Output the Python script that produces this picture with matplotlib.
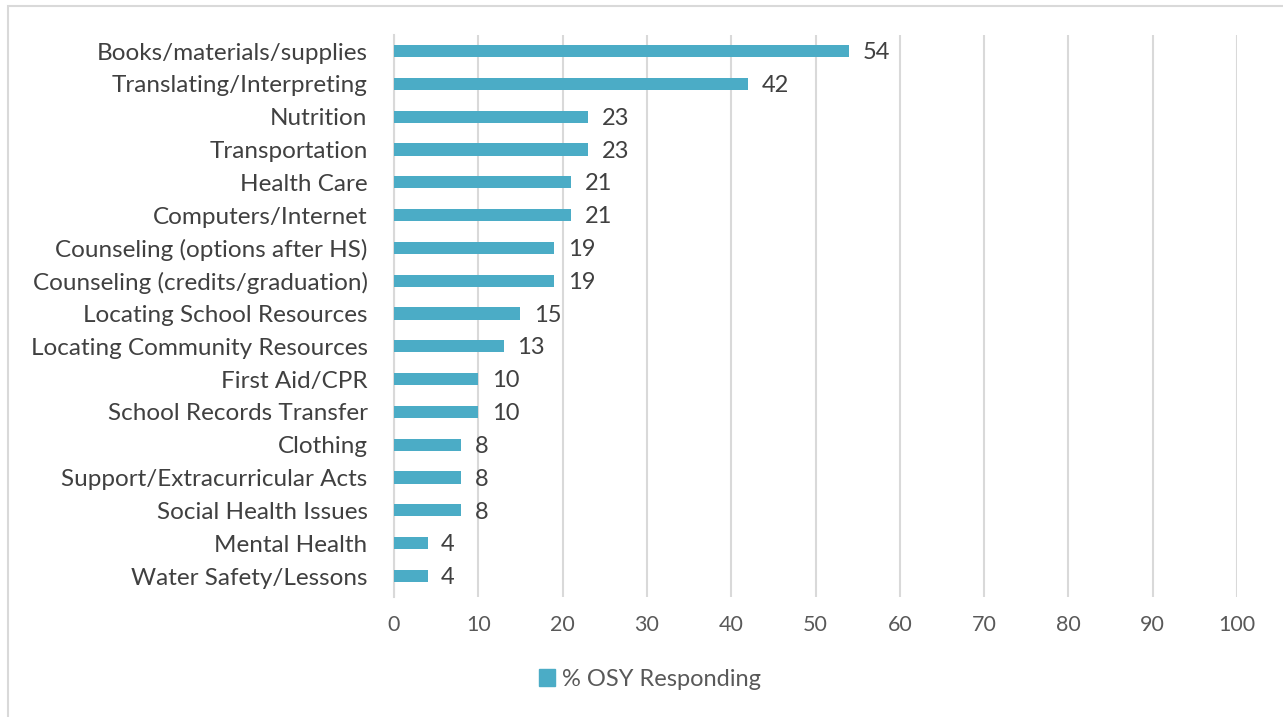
import matplotlib.pyplot as plt
from matplotlib.patches import Rectangle

categorias = [
    "Books/materials/supplies",
    "Translating/Interpreting",
    "Nutrition",
    "Transportation",
    "Health Care",
    "Computers/Internet",
    "Counseling (options after HS)",
    "Counseling (credits/graduation)",
    "Locating School Resources",
    "Locating Community Resources",
    "First Aid/CPR",
    "School Records Transfer",
    "Clothing",
    "Support/Extracurricular Acts",
    "Social Health Issues",
    "Mental Health",
    "Water Safety/Lessons",
]
porcentajes = [54, 42, 23, 23, 21, 21, 19, 19, 15, 13, 10, 10, 8, 8, 8, 4, 4]
serie = "% OSY Responding"
ticks_x = [0, 10, 20, 30, 40, 50, 60, 70, 80, 90, 100]

azul = "#4BACC6"
gris_texto = "#595959"

plt.rcParams["font.family"] = ["Lato", "DejaVu Sans"]

fig = plt.figure(figsize=(12.83, 7.17), dpi=100)
ax = fig.add_axes([394 / 1283, 1 - 597 / 717, (1237 - 394) / 1283, (597 - 35) / 717])

# marco del gráfico (recortado en la imagen original)
fig.patches.append(Rectangle((8 / 1283, -0.1), 1.2, 1 - 5.5 / 717 + 0.1,
                             transform=fig.transFigure, fill=False,
                             edgecolor="#D9D9D9", linewidth=1.5))

posiciones = list(range(len(categorias)))
ax.barh(posiciones, porcentajes, height=0.37, color=azul, zorder=3)
for p, v in zip(posiciones, porcentajes):
    ax.text(v + 1.6, p + 0.05, str(v), va="center", ha="left", fontsize=17, color="#404040")

ax.set_ylim(16.64, -0.488)
ax.set_xlim(0, 100)
ax.set_yticks(posiciones)
ax.set_yticklabels(categorias, fontsize=17.5, color="#404040")
ax.set_xticks(ticks_x)
ax.set_xticklabels([str(t) for t in ticks_x], fontsize=15.5, color=gris_texto)
ax.tick_params(axis="both", length=0)
ax.tick_params(axis="y", pad=19)
ax.tick_params(axis="x", pad=13)
ax.grid(axis="x", color="#D9D9D9", linewidth=1.5, zorder=0)
for lado in ["top", "right", "bottom"]:
    ax.spines[lado].set_visible(False)
ax.spines["left"].set_color("#D9D9D9")
ax.spines["left"].set_linewidth(1.5)

ax.legend([Rectangle((0, 0), 1, 1, color=azul)], [serie], loc="center",
          bbox_to_anchor=(650 / 1283, 1 - 679 / 717), bbox_transform=fig.transFigure,
          frameon=False, fontsize=17, handlelength=0.7, handleheight=0.7,
          handletextpad=0.3, labelcolor=gris_texto)

fig.savefig("out.png", dpi=100)
